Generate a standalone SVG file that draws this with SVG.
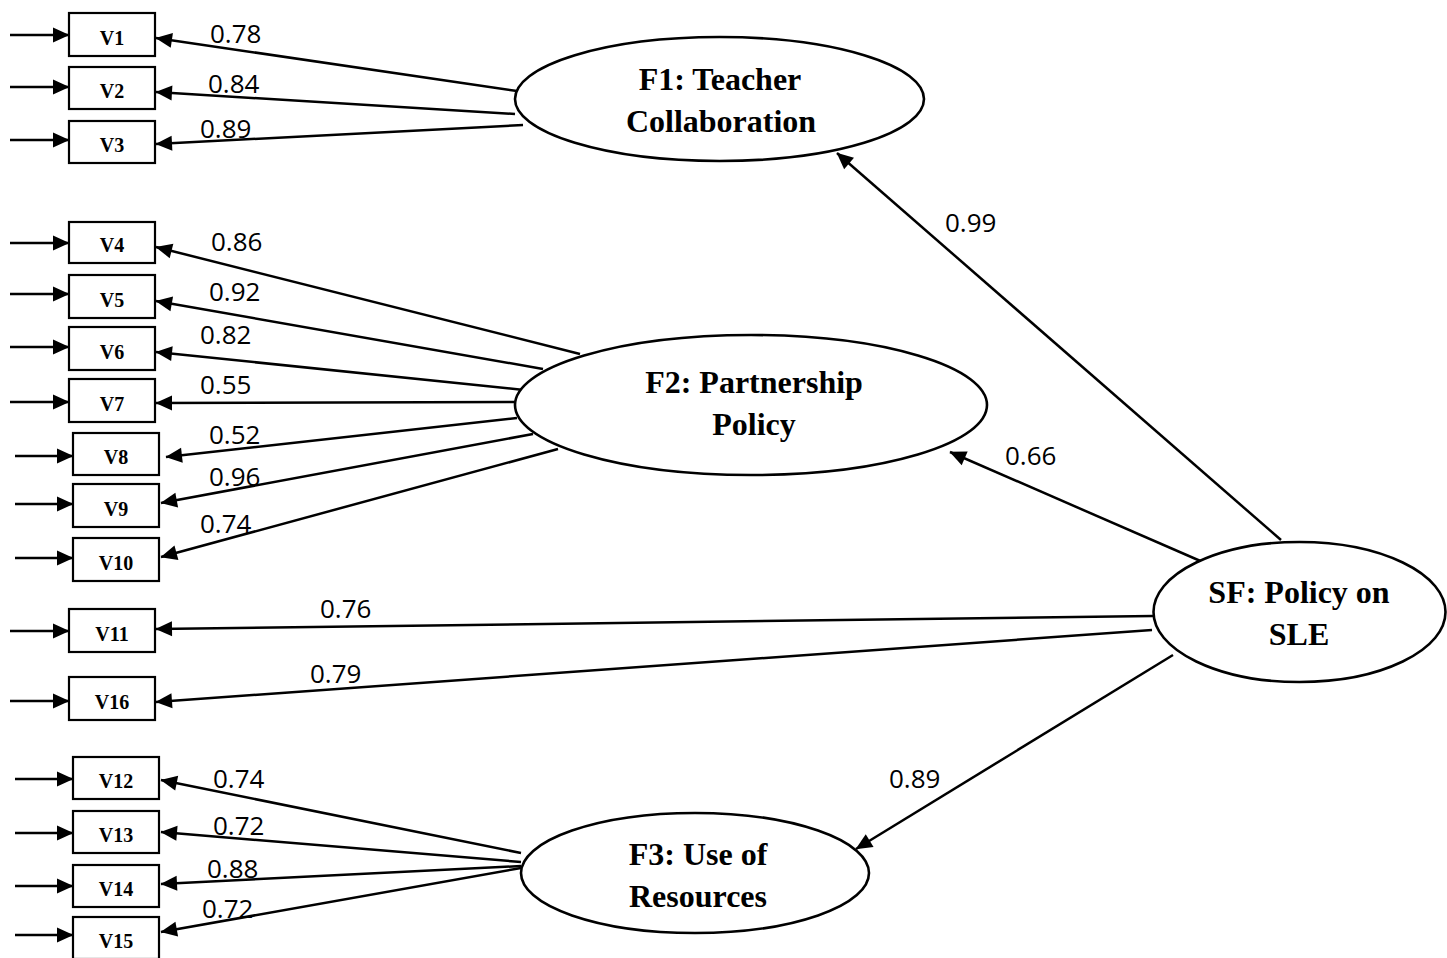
<svg xmlns="http://www.w3.org/2000/svg" width="1447" height="958" viewBox="0 0 1447 958">
<style>
.box{fill:#fff;stroke:#000;stroke-width:2.2}
.ell{fill:#fff;stroke:#000;stroke-width:2.6}
.vl{font-family:"Liberation Serif",serif;font-weight:bold;font-size:20px;text-anchor:middle}
.fl{font-family:"Liberation Serif",serif;font-weight:bold;font-size:32px;text-anchor:middle}
.num{font-family:"Open Sans",sans-serif;font-size:26px}
.c line{stroke:#000;stroke-width:2.5;marker-end:url(#ah)}
</style>
<defs>
<marker id="ah" markerUnits="userSpaceOnUse" markerWidth="18" markerHeight="16" refX="16" refY="7.5" orient="auto" overflow="visible">
<path d="M0,0 L16.5,7.5 L0,15 z" fill="#000"/>
</marker>
</defs>
<rect width="1447" height="958" fill="#fff"/>
<g id="connectors" class="c">
<line x1="10" y1="35" x2="69" y2="35"/>
<line x1="10" y1="87" x2="69" y2="87"/>
<line x1="10" y1="140" x2="69" y2="140"/>
<line x1="10" y1="243" x2="69" y2="243"/>
<line x1="10" y1="294" x2="69" y2="294"/>
<line x1="10" y1="347" x2="69" y2="347"/>
<line x1="10" y1="402" x2="69" y2="402"/>
<line x1="15" y1="456" x2="73" y2="456"/>
<line x1="15" y1="504" x2="73" y2="504"/>
<line x1="15" y1="558" x2="73" y2="558"/>
<line x1="10" y1="631" x2="69" y2="631"/>
<line x1="10" y1="701" x2="69" y2="701"/>
<line x1="15" y1="779" x2="73" y2="779"/>
<line x1="15" y1="833" x2="73" y2="833"/>
<line x1="15" y1="886" x2="73" y2="886"/>
<line x1="15" y1="935" x2="73" y2="935"/>
<line x1="517" y1="91" x2="156" y2="38"/>
<line x1="515" y1="114" x2="156" y2="92"/>
<line x1="523" y1="125" x2="156" y2="144"/>
<line x1="580" y1="354" x2="156" y2="247"/>
<line x1="543" y1="369" x2="156" y2="301"/>
<line x1="524" y1="390" x2="156" y2="352"/>
<line x1="519" y1="402" x2="156" y2="403"/>
<line x1="517" y1="418" x2="166" y2="457"/>
<line x1="533" y1="434" x2="161" y2="503"/>
<line x1="558" y1="449" x2="161" y2="557"/>
<line x1="1153" y1="616" x2="156" y2="629"/>
<line x1="1152" y1="630" x2="156" y2="702"/>
<line x1="521" y1="853" x2="161" y2="780"/>
<line x1="521" y1="862" x2="161" y2="832"/>
<line x1="521" y1="866" x2="161" y2="884"/>
<line x1="521" y1="868" x2="161" y2="932"/>
<line x1="1281" y1="540" x2="837" y2="153"/>
<line x1="1205" y1="563" x2="950" y2="452"/>
<line x1="1173" y1="655" x2="856" y2="849"/>
</g>
<g id="labels" class="num">
<text x="210" y="43">0.78</text>
<text x="208" y="93">0.84</text>
<text x="200" y="138">0.89</text>
<text x="211" y="251">0.86</text>
<text x="209" y="301">0.92</text>
<text x="200" y="344">0.82</text>
<text x="200" y="394">0.55</text>
<text x="209" y="444">0.52</text>
<text x="209" y="486">0.96</text>
<text x="200" y="533">0.74</text>
<text x="320" y="618">0.76</text>
<text x="310" y="683">0.79</text>
<text x="213" y="788">0.74</text>
<text x="213" y="835">0.72</text>
<text x="207" y="878">0.88</text>
<text x="202" y="918">0.72</text>
<text x="945" y="232">0.99</text>
<text x="1005" y="465">0.66</text>
<text x="889" y="788">0.89</text>
</g>
<g id="V1"><rect class="box" x="69" y="13" width="86" height="43"/><text class="vl" x="112" y="45">V1</text></g>
<g id="V2"><rect class="box" x="69" y="67" width="86" height="42"/><text class="vl" x="112" y="98">V2</text></g>
<g id="V3"><rect class="box" x="69" y="121" width="86" height="42"/><text class="vl" x="112" y="152">V3</text></g>
<g id="V4"><rect class="box" x="69" y="222" width="86" height="41"/><text class="vl" x="112" y="252">V4</text></g>
<g id="V5"><rect class="box" x="69" y="275" width="86" height="43"/><text class="vl" x="112" y="307">V5</text></g>
<g id="V6"><rect class="box" x="69" y="327" width="86" height="43"/><text class="vl" x="112" y="359">V6</text></g>
<g id="V7"><rect class="box" x="69" y="379" width="86" height="43"/><text class="vl" x="112" y="411">V7</text></g>
<g id="V8"><rect class="box" x="73" y="433" width="86" height="42"/><text class="vl" x="116" y="464">V8</text></g>
<g id="V9"><rect class="box" x="73" y="484" width="86" height="43"/><text class="vl" x="116" y="516">V9</text></g>
<g id="V10"><rect class="box" x="73" y="538" width="86" height="43"/><text class="vl" x="116" y="570">V10</text></g>
<g id="V11"><rect class="box" x="69" y="609" width="86" height="43"/><text class="vl" x="112" y="641">V11</text></g>
<g id="V16"><rect class="box" x="69" y="677" width="86" height="43"/><text class="vl" x="112" y="709">V16</text></g>
<g id="V12"><rect class="box" x="73" y="757" width="86" height="42"/><text class="vl" x="116" y="788">V12</text></g>
<g id="V13"><rect class="box" x="73" y="811" width="86" height="42"/><text class="vl" x="116" y="842">V13</text></g>
<g id="V14"><rect class="box" x="73" y="865" width="86" height="42"/><text class="vl" x="116" y="896">V14</text></g>
<g id="V15"><rect class="box" x="73" y="917" width="86" height="42"/><text class="vl" x="116" y="948">V15</text></g>
<g id="F1"><ellipse class="ell" cx="719.5" cy="99" rx="204.5" ry="62"/><text class="fl" x="720" y="90">F1: Teacher</text><text class="fl" x="721" y="132">Collaboration</text></g>
<g id="F2"><ellipse class="ell" cx="751" cy="405" rx="236" ry="70"/><text class="fl" x="754" y="393">F2: Partnership</text><text class="fl" x="754" y="435">Policy</text></g>
<g id="SF"><ellipse class="ell" cx="1299.5" cy="612" rx="146" ry="70"/><text class="fl" x="1299" y="603">SF: Policy on</text><text class="fl" x="1299" y="645">SLE</text></g>
<g id="F3"><ellipse class="ell" cx="695" cy="873" rx="174" ry="60"/><text class="fl" x="698" y="865">F3: Use of</text><text class="fl" x="698" y="907">Resources</text></g>
</svg>
